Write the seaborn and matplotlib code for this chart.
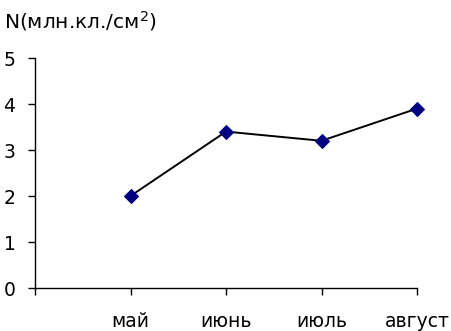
import matplotlib
matplotlib.use("Agg")
import matplotlib.pyplot as plt
import seaborn as sns
import pandas as pd

months = ["май", "июнь", "июль", "август"]
density = [2.0, 3.4, 3.2, 3.9]
y_ticks = [0, 1, 2, 3, 4, 5]

sns.set_style("ticks")
plt.rcParams["font.family"] = ["DejaVu Sans"]
plt.rcParams["mathtext.fontset"] = "dejavusans"
plt.rcParams["text.color"] = "black"

df = pd.DataFrame({"pos": range(1, len(months) + 1), "N": density})

fig = plt.figure(figsize=(4.51, 3.31), dpi=100)
ax = fig.add_axes([35 / 451, 1 - 288 / 331, (417 - 35) / 451, (288 - 58) / 331])

sns.lineplot(data=df, x="pos", y="N", ax=ax, color="black", linewidth=1.4,
             marker="D", markersize=7.5, markerfacecolor="#000080",
             markeredgecolor="#000080", clip_on=False, zorder=3)

ax.set_xlim(0, len(months))
ax.set_ylim(0, 5)
ax.set_xticks(range(0, len(months) + 1))
ax.set_xticklabels([""] + months, fontsize=13.5)
ax.set_yticks(y_ticks)
ax.set_yticklabels([str(t) for t in y_ticks], fontsize=13.5)
ax.tick_params(axis="x", direction="out", length=5, width=1, pad=12, colors="black")
ax.tick_params(axis="y", direction="out", length=5, width=1, pad=9, colors="black")
ax.set_xlabel("")
ax.set_ylabel("")
for side in ("top", "right"):
    ax.spines[side].set_visible(False)
for side in ("left", "bottom"):
    ax.spines[side].set_linewidth(1)
    ax.spines[side].set_color("black")

fig.text(4 / 451, 1 - 28 / 331, "N(млн.кл./см$^2$)", fontsize=14.5,
         va="baseline", ha="left", color="black")

fig.savefig("out.png", dpi=100)
